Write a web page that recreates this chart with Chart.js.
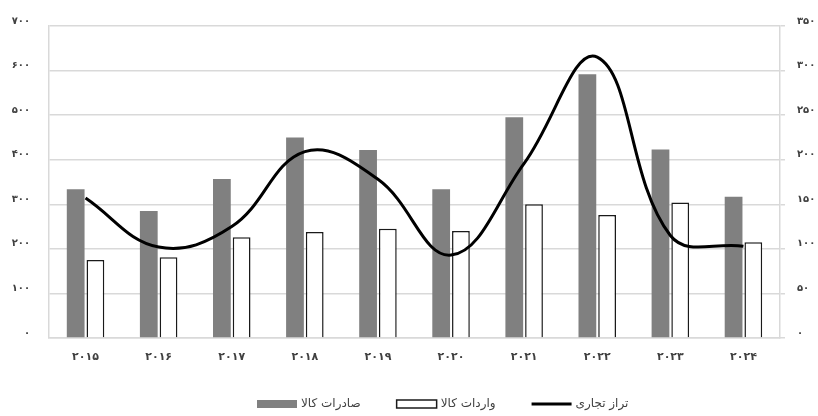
<!DOCTYPE html>
<html lang="fa">
<head>
<meta charset="utf-8">
<style>
  html, body { margin: 0; padding: 0; background: #ffffff; }
  #wrap { width: 818px; height: 416px; position: relative; }
</style>
<script src="https://cdn.jsdelivr.net/npm/chart.js@4.4.1/dist/chart.umd.min.js"></script>
</head>
<body>
<div id="wrap"><canvas id="chart" width="818" height="416"></canvas></div>
<script>
// Years (Persian digits)
const years = ['۲۰۱۵', '۲۰۱۶', '۲۰۱۷', '۲۰۱۸', '۲۰۱۹', '۲۰۲۰', '۲۰۲۱', '۲۰۲۲', '۲۰۲۳', '۲۰۲۴'];

// Goods exports (left axis)
const exportsValues = [334, 285, 357, 450, 422, 334, 495, 592, 423, 317];
// Goods imports (left axis)
const importsValues = [175, 181, 226, 238, 245, 240, 300, 276, 304, 215];
// Trade balance (right axis)
const balanceValues = [157, 102, 125, 209, 178, 93, 196, 315, 115, 103];

// Series names
const seriesNames = ['صادرات کالا', 'واردات کالا', 'تراز تجاری'];

// Axis tick labels
const leftTicks = ['۰', '۱۰۰', '۲۰۰', '۳۰۰', '۴۰۰', '۵۰۰', '۶۰۰', '۷۰۰'];
const rightTicks = ['۰', '۵۰', '۱۰۰', '۱۵۰', '۲۰۰', '۲۵۰', '۳۰۰', '۳۵۰'];

const FONT = "'DejaVu Sans', sans-serif";
const TEXT = '#404040';
const GRID = '#d9d9d9';

// Legend row under the x axis: swatch on the left of each name, items left to right
const bottomLegend = {
  id: 'bottomLegend',
  afterDraw(chart) {
    const ctx = chart.ctx;
    const y = chart.height - 12;
    const swatchW = 40, swatchH = 8, textGap = 4, itemGap = 36;
    ctx.save();
    ctx.font = '12px ' + FONT;
    ctx.textBaseline = 'middle';
    ctx.textAlign = 'left';
    let x = 257;
    chart.data.datasets.forEach((ds) => {
      if (ds.type === 'line') {
        ctx.strokeStyle = ds.borderColor;
        ctx.lineWidth = ds.borderWidth;
        ctx.beginPath();
        ctx.moveTo(x, y);
        ctx.lineTo(x + swatchW, y);
        ctx.stroke();
      } else {
        ctx.fillStyle = ds.backgroundColor;
        ctx.fillRect(x, y - swatchH / 2, swatchW, swatchH);
        if (ds.borderWidth) {
          ctx.strokeStyle = ds.borderColor;
          ctx.lineWidth = ds.borderWidth;
          ctx.strokeRect(x, y - swatchH / 2, swatchW, swatchH);
        }
      }
      x += swatchW + textGap;
      ctx.fillStyle = TEXT;
      ctx.fillText(ds.label, x, y);
      x += ctx.measureText(ds.label).width + itemGap;
    });
    ctx.restore();
  }
};

new Chart(document.getElementById('chart'), {
  data: {
    labels: years,
    datasets: [
      {
        type: 'bar',
        label: seriesNames[0],
        data: exportsValues,
        backgroundColor: '#808080',
        borderWidth: 0,
        yAxisID: 'y',
        order: 2,
        categoryPercentage: 0.54,
        barPercentage: 0.9
      },
      {
        type: 'bar',
        label: seriesNames[1],
        data: importsValues,
        backgroundColor: '#ffffff',
        borderColor: '#1a1a1a',
        borderWidth: 1.5,
        yAxisID: 'y',
        order: 2,
        categoryPercentage: 0.54,
        barPercentage: 0.9
      },
      {
        type: 'line',
        label: seriesNames[2],
        data: balanceValues,
        borderColor: '#000000',
        backgroundColor: '#000000',
        borderWidth: 3,
        pointRadius: 0,
        tension: 0.4,
        fill: false,
        yAxisID: 'y1',
        order: 1
      }
    ]
  },
  plugins: [bottomLegend],
  options: {
    responsive: false,
    animation: false,
    layout: { padding: { top: 26, right: 0, bottom: 48, left: 0 } },
    plugins: {
      tooltip: { enabled: false },
      legend: { display: false }
    },
    scales: {
      x: {
        afterFit(scale) { scale.height = 30; },
        grid: { display: false, drawTicks: false },
        border: { display: true, color: GRID, width: 1.5 },
        ticks: {
          font: { family: FONT, size: 11, weight: 'bold' },
          color: TEXT,
          padding: 13,
          maxRotation: 0
        }
      },
      y: {
        position: 'left',
        min: 0,
        max: 700,
        afterFit(scale) { scale.width = 49; },
        grid: { color: GRID, lineWidth: 1.5, drawTicks: false },
        border: { display: true, color: GRID, width: 1.5 },
        ticks: {
          stepSize: 100,
          padding: 19,
          labelOffset: -5,
          font: { family: FONT, size: 10, weight: 'bold' },
          color: TEXT,
          callback: (v) => leftTicks[Math.round(v / 100)]
        }
      },
      y1: {
        position: 'right',
        min: 0,
        max: 350,
        afterFit(scale) { scale.width = 38; },
        grid: { drawOnChartArea: false, color: GRID, lineWidth: 1.5, tickLength: 5 },
        border: { display: true, color: GRID, width: 1.5 },
        ticks: {
          stepSize: 50,
          padding: 12,
          labelOffset: -5,
          font: { family: FONT, size: 10, weight: 'bold' },
          color: TEXT,
          callback: (v) => rightTicks[Math.round(v / 50)]
        }
      }
    }
  }
});
</script>
</body>
</html>
